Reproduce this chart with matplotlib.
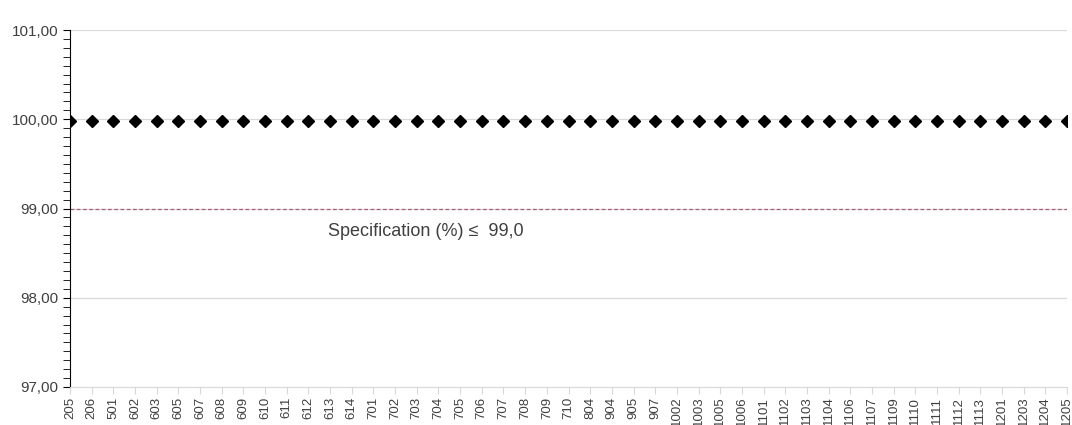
import numpy as np
import matplotlib.pyplot as plt
from matplotlib.ticker import MultipleLocator, FuncFormatter

plt.rcParams['font.family'] = ['Liberation Sans', 'DejaVu Sans']

lots = ['205', '206', '501', '602', '603', '605', '607', '608', '609', '610',
        '611', '612', '613', '614', '701', '702', '703', '704', '705', '706',
        '707', '708', '709', '710', '804', '904', '905', '907', '1002', '1003',
        '1005', '1006', '1101', '1102', '1103', '1104', '1106', '1107', '1109',
        '1110', '1111', '1112', '1113', '1201', '1203', '1204', '1205']
assay = [99.98] * len(lots)
spec_limit = 99.0
spec_text = 'Specification (%) ≤  99,0'

fig = plt.figure(figsize=(10.72, 4.25), dpi=100)
ax = fig.add_axes([70 / 1072, 1 - 387 / 425, 997 / 1072, 357 / 425])

x = np.arange(len(lots))
ax.plot(x, assay, linestyle='none', marker='D', color='black', markersize=5.8, zorder=3)
ax.axhline(spec_limit, color='#a8607a', linestyle=(0, (3, 2)), linewidth=0.9, zorder=2)
ax.text(11.92, 98.74, spec_text, fontsize=13, color='#404040', ha='left', va='center')

ax.set_xlim(0, len(lots) - 1)
ax.set_ylim(97, 101)
ax.yaxis.set_major_locator(MultipleLocator(1))
ax.yaxis.set_minor_locator(MultipleLocator(0.1))
ax.yaxis.set_major_formatter(FuncFormatter(lambda v, p: f'{v:.2f}'.replace('.', ',')))
ax.grid(axis='y', which='major', color='#d9d9d9', linewidth=0.9, zorder=0)

ax.set_xticks(x)
ax.set_xticklabels(lots, rotation=90, fontsize=9.5, color='#404040')
ax.tick_params(axis='x', length=5, color='#d9d9d9', pad=2)
ax.tick_params(axis='y', which='major', length=5, color='black', labelsize=11, labelcolor='#404040')
ax.tick_params(axis='y', which='minor', length=5, color='black')

for s in ['top', 'right']:
    ax.spines[s].set_visible(False)
ax.spines['bottom'].set_color('#d9d9d9')
ax.spines['left'].set_color('black')

fig.savefig('out.png', dpi=100)
